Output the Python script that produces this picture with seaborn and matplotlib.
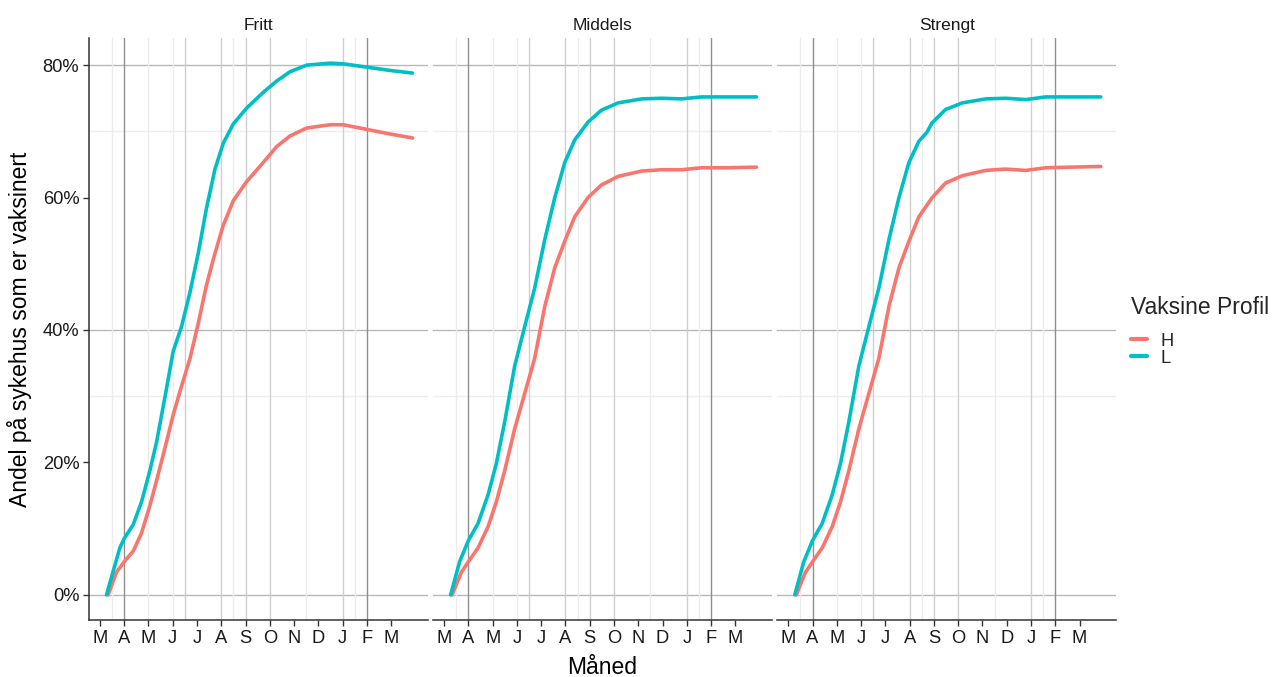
import numpy as np
import pandas as pd
import matplotlib
matplotlib.use("Agg")
import matplotlib.pyplot as plt
from matplotlib.lines import Line2D
import seaborn as sns

# ---------------- data (months since 1 March 2021) ----------------
panels = ["Fritt", "Middels", "Strengt"]
profiles = ["H", "L"]
month_labels = ["M", "A", "M", "J", "J", "A", "S", "O", "N", "D", "J", "F", "M"]
y_tick_values = [0, 20, 40, 60, 80]

fritt_L_x = [0.27, 0.62, 0.82, 1.0, 1.37, 1.71, 2.06, 2.33, 2.68, 3.02, 3.36, 3.71, 4.05, 4.39,
             4.74, 5.08, 5.49, 6.04, 6.73, 7.28, 7.83, 8.51, 9.48, 10.02, 10.99, 11.95, 12.88]
fritt_L_y = [0.0, 4.5, 7.1, 8.5, 10.6, 14.0, 18.8, 23.0, 29.9, 36.8, 40.5, 45.7, 51.6, 58.4,
             64.3, 68.2, 71.1, 73.5, 75.9, 77.6, 79.0, 80.0, 80.3, 80.2, 79.7, 79.2, 78.8]
fritt_H_x = [0.34, 0.68, 1.0, 1.37, 1.71, 2.06, 2.33, 2.68, 3.02, 3.36, 3.71, 4.05, 4.39, 4.74,
             5.08, 5.49, 6.04, 6.73, 7.28, 7.83, 8.51, 9.48, 10.02, 10.99, 11.95, 12.88]
fritt_H_y = [0.0, 3.4, 5.0, 6.6, 9.3, 13.5, 17.2, 22.2, 27.2, 31.5, 35.7, 41.0, 46.8, 51.6,
             55.8, 59.5, 62.4, 65.3, 67.7, 69.3, 70.5, 71.0, 71.0, 70.3, 69.6, 69.0]

middels_L_x = [0.27, 0.64, 1.0, 1.40, 1.81, 2.15, 2.50, 2.91, 3.32, 3.73, 4.15, 4.56, 4.97, 5.38,
               5.93, 6.48, 7.17, 8.13, 8.95, 9.78, 10.60, 11.70, 12.87]
middels_L_y = [0.0, 5.0, 8.2, 10.8, 15.1, 19.8, 26.2, 34.6, 40.5, 46.3, 53.7, 60.0, 65.3, 68.7,
               71.4, 73.2, 74.3, 74.9, 75.0, 74.9, 75.2, 75.2, 75.2]
middels_H_x = [0.33, 0.71, 1.0, 1.40, 1.81, 2.15, 2.50, 2.91, 3.32, 3.73, 4.15, 4.56, 4.97, 5.38,
               5.93, 6.48, 7.17, 8.13, 8.95, 9.78, 10.60, 11.70, 12.87]
middels_H_y = [0.0, 3.4, 5.0, 7.1, 10.3, 14.0, 18.8, 25.1, 30.4, 35.7, 43.6, 49.4, 53.4, 57.1,
               60.0, 61.9, 63.2, 64.0, 64.2, 64.2, 64.5, 64.5, 64.6]

strengt_L_x = [0.27, 0.64, 1.0, 1.40, 1.81, 2.15, 2.50, 2.91, 3.32, 3.73, 4.15, 4.56, 4.97, 5.38,
               5.70, 5.93, 6.48, 7.17, 8.13, 8.95, 9.78, 10.60, 11.70, 12.87]
strengt_L_y = [0.0, 5.0, 8.2, 10.8, 15.1, 19.8, 26.2, 34.6, 40.5, 46.3, 53.7, 60.0, 65.3, 68.5,
               69.8, 71.3, 73.3, 74.3, 74.9, 75.0, 74.8, 75.2, 75.2, 75.2]
strengt_H_x = [0.33, 0.71, 1.0, 1.40, 1.81, 2.15, 2.50, 2.91, 3.32, 3.73, 4.15, 4.56, 4.97, 5.38,
               5.93, 6.48, 7.17, 8.13, 8.95, 9.78, 10.60, 11.70, 12.87]
strengt_H_y = [0.0, 3.4, 5.0, 7.1, 10.3, 14.0, 18.8, 25.1, 30.4, 35.7, 43.6, 49.4, 53.4, 57.1,
               60.0, 62.2, 63.3, 64.1, 64.3, 64.1, 64.5, 64.6, 64.7]

series = {
    ("Fritt", "H"): (fritt_H_x, fritt_H_y),
    ("Fritt", "L"): (fritt_L_x, fritt_L_y),
    ("Middels", "H"): (middels_H_x, middels_H_y),
    ("Middels", "L"): (middels_L_x, middels_L_y),
    ("Strengt", "H"): (strengt_H_x, strengt_H_y),
    ("Strengt", "L"): (strengt_L_x, strengt_L_y),
}

rows = []
for (panel, prof), (xs, ys) in series.items():
    for x, y in zip(xs, ys):
        rows.append({"panel": panel, "Vaksine Profil": prof, "month": x, "andel": y})
df = pd.DataFrame(rows)

# vertical reference lines (month position, level)
vlines = [(0.5, "f"), (1.0, "d"), (2.0, "f"), (3.0, "f"), (3.5, "m"), (5.0, "m"), (5.5, "f"),
          (6.0, "m"), (7.0, "m"), (8.5, "f"), (10.0, "m"), (10.5, "f"), (11.0, "d")]
vcol = {"d": "#8f8f8f", "m": "#cfcfcf", "f": "#ececec"}

palette = {"H": "#F8766D", "L": "#00BFC4"}

# ---------------- figure ----------------
sns.set_theme(style="white")
plt.rcParams["font.family"] = ["Liberation Sans", "DejaVu Sans"]

fig, axes = plt.subplots(1, 3, figsize=(12.74, 6.77), dpi=100, sharey=True)
fig.subplots_adjust(left=89 / 1274, right=1116 / 1274, bottom=1 - 620 / 677,
                    top=1 - 38 / 677, wspace=5.5 / 339)

for ax, panel in zip(axes, panels):
    ax.set_facecolor("white")
    for yv, c in [(30, "#ededed"), (70, "#ededed"), (0, "#b8b8b8"), (40, "#b8b8b8"), (80, "#b8b8b8")]:
        ax.axhline(yv, color=c, lw=1.0, zorder=0)
    for xv, lev in vlines:
        ax.axvline(xv, color=vcol[lev], lw=1.0, zorder=0)
    sub = df[df["panel"] == panel]
    sns.lineplot(data=sub, x="month", y="andel", hue="Vaksine Profil", hue_order=profiles,
                 palette=palette, lw=2.6, ax=ax, legend=False, sort=True, estimator=None)
    ax.set_xlim(-0.45, 13.5)
    ax.set_ylim(-3.8, 84.1)
    ax.set_xticks(range(len(month_labels)))
    ax.set_xticklabels(month_labels, fontsize=13.2, color="#1a1a1a")
    ax.set_yticks(y_tick_values)
    ax.set_yticklabels([f"{v}%" for v in y_tick_values], fontsize=13.2, color="#1a1a1a")
    ax.tick_params(axis="x", length=4, width=1, color="#333333", pad=3, bottom=True)
    ax.set_xlabel("")
    ax.set_ylabel("")
    ax.set_title(panel, fontsize=12.5, color="#1a1a1a", pad=6)
    for s in ["top", "right"]:
        ax.spines[s].set_visible(False)
    ax.spines["bottom"].set_color("#333333")
    ax.spines["bottom"].set_linewidth(1.1)
    if ax is axes[0]:
        ax.spines["left"].set_color("#333333")
        ax.spines["left"].set_linewidth(1.1)
        ax.tick_params(axis="y", length=4, width=1, color="#333333", pad=3, left=True)
    else:
        ax.spines["left"].set_visible(False)
        ax.tick_params(axis="y", left=False, labelleft=False)

axes[1].set_xlabel("Måned", fontsize=16.5, color="black", labelpad=7)
axes[0].set_ylabel("Andel på sykehus som er vaksinert", fontsize=16.5, color="black", labelpad=8)

handles = [Line2D([0], [0], color=palette[p], lw=3.0) for p in profiles]
leg = fig.legend(handles, profiles, title="Vaksine Profil", loc="upper left",
                 bbox_to_anchor=(1131 / 1274, 1 - 296 / 677), frameon=False,
                 fontsize=13.2, title_fontsize=16.5, handlelength=0.85, handletextpad=0.75,
                 labelspacing=0.0, borderpad=0.0, borderaxespad=0.0)
leg._legend_box.align = "left"
leg._legend_box.sep = 10

fig.savefig("out.png", dpi=100, facecolor="white")
